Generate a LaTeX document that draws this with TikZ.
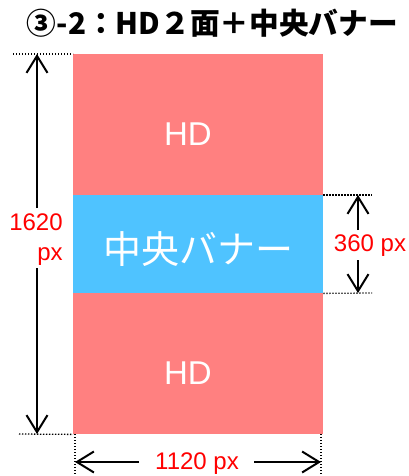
\documentclass[tikz,border=0pt]{standalone}
\usepackage{fontspec}
\setmainfont{Liberation Sans}
\newfontfamily\cjk{Noto Sans CJK JP}
\usetikzlibrary{arrows.meta}
\definecolor{hdpink}{RGB}{255,128,128}
\definecolor{bannerblue}{RGB}{79,195,255}
\tikzset{
  area/.style={draw=none, inner sep=0pt, minimum width=250pt},
  dimarrow/.style={line width=2pt, -{Straight Barb[length=17pt,width=21pt,line width=2pt]}},
  guide/.style={line width=1.3pt, dash pattern=on 1.3pt off 1.7pt},
  dimlabel/.style={text=red, inner sep=0pt, font=\fontsize{24}{30}\selectfont},
  hdlabel/.style={text=white, inner sep=0pt, font=\fontsize{33}{33}\selectfont},
}
\begin{document}
\begin{tikzpicture}[x=1pt, y=-1pt]
\useasboundingbox (0,0) rectangle (408,476);
% title
\node[anchor=base, inner sep=0pt, font=\cjk\bfseries\fontsize{29.7}{30}\selectfont] (title) at (212.5,34.5) {③-2：HD２面＋中央バナー};
% areas
\node[area, fill=hdpink, minimum height=141pt, anchor=north west] (hd1) at (73,54) {};
\node[area, fill=bannerblue, minimum height=98pt, anchor=north west] (banner) at (73,195) {};
\node[area, fill=hdpink, minimum height=141pt, anchor=north west] (hd2) at (73,293) {};
\node[hdlabel] (hd1text) at (188,134) {HD};
\node[hdlabel] (hd2text) at (188,373) {HD};
\node[text=white, inner sep=0pt, font=\cjk\fontsize{38}{38}\selectfont] (bannertext) at (198.5,249) {中央バナー};
% left dimension (1620 px)
\draw[guide] (13,54) coordinate (lg1) -- (hd1.north west);
\draw[guide] (19,434) coordinate (lg2) -- (hd2.south west);
\coordinate (lt) at (37,54);
\coordinate (lb) at (37,434);
\coordinate (lga) at (37,208);
\coordinate (lgb) at (37,268);
\node[dimlabel, align=right] (lab1) at (36,240) {1620\\px};
\draw[dimarrow] (lga) -- (lt);
\draw[dimarrow] (lgb) -- (lb);
% right dimension (360 px)
\draw[guide] (banner.north east) -- (372,195) coordinate (rg1);
\draw[guide] (banner.south east) -- (372,293) coordinate (rg2);
\coordinate (rt) at (358,195);
\coordinate (rb) at (358,293);
\coordinate (rga) at (358,230);
\coordinate (rgb) at (358,260);
\node[dimlabel] (lab2) at (370,246) {360 px};
\draw[dimarrow] (rga) -- (rt);
\draw[dimarrow] (rgb) -- (rb);
% bottom dimension (1120 px)
\coordinate (bl) at (75,434);
\coordinate (br) at (321,434);
\draw[guide] (bl) -- (75,476) coordinate (bg1);
\draw[guide] (br) -- (321,476) coordinate (bg2);
\coordinate (bal) at (75,462);
\coordinate (bar) at (321,462);
\coordinate (bga) at (139,462);
\coordinate (bgb) at (254,462);
\node[dimlabel] (lab3) at (197,464) {1120 px};
\draw[dimarrow] (bga) -- (bal);
\draw[dimarrow] (bgb) -- (bar);
\end{tikzpicture}
\end{document}
